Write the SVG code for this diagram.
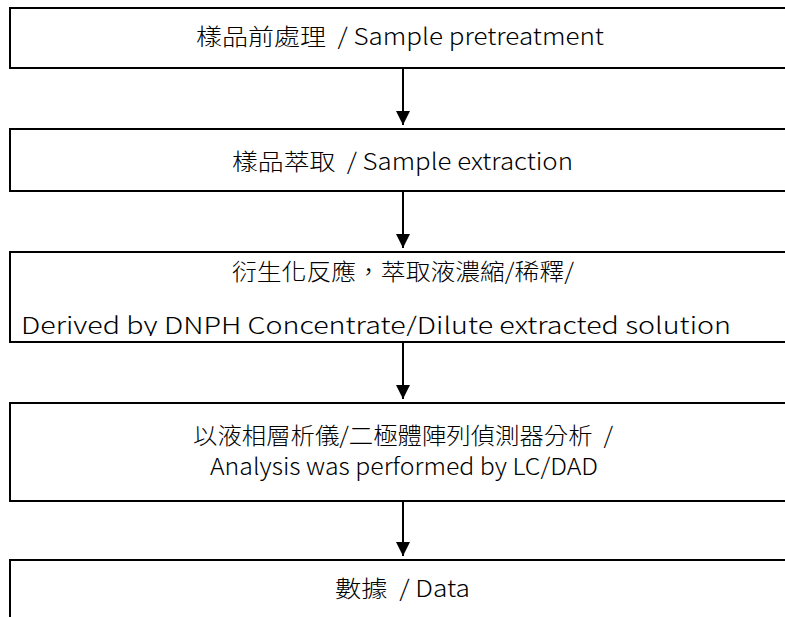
<svg xmlns="http://www.w3.org/2000/svg" width="785" height="617" viewBox="0 0 785 617">
<style>
.box{fill:#fff;stroke:#000;stroke-width:2}
.t{font-family:"Noto Sans CJK TC","Noto Sans",sans-serif;font-size:23px;font-weight:300;fill:#000;white-space:pre}
.c{stroke:#000;stroke-width:2;fill:none}
</style>
<defs>
<marker id="ah" markerUnits="userSpaceOnUse" markerWidth="14" markerHeight="16" refX="14" refY="7" orient="auto">
<path d="M0,0 L14,7 L0,14 z" fill="#000"/>
</marker>
<clipPath id="clip3"><rect x="0" y="252" width="800" height="84"/></clipPath>
</defs>
<g id="connectors">
<line class="c" x1="403" y1="69" x2="403" y2="125" marker-end="url(#ah)"/>
<line class="c" x1="403" y1="192" x2="403" y2="248" marker-end="url(#ah)"/>
<line class="c" x1="403" y1="343" x2="403" y2="399" marker-end="url(#ah)"/>
<line class="c" x1="403" y1="502" x2="403" y2="556" marker-end="url(#ah)"/>
</g>
<g id="n1">
<rect class="box" x="10" y="8" width="800" height="60"/>
<text class="t" x="196" y="45" textLength="408" lengthAdjust="spacingAndGlyphs" xml:space="preserve">樣品前處理  / Sample pretreatment</text>
</g>
<g id="n2">
<rect class="box" x="10" y="129" width="800" height="62"/>
<text class="t" x="232" y="170" textLength="341" lengthAdjust="spacingAndGlyphs" xml:space="preserve">樣品萃取  / Sample extraction</text>
</g>
<g id="n3">
<rect class="box" x="10" y="252" width="800" height="90"/>
<text class="t" x="232" y="280" textLength="342" lengthAdjust="spacingAndGlyphs">衍生化反應，萃取液濃縮/稀釋/</text>
<text class="t" x="21" y="334" textLength="710" lengthAdjust="spacingAndGlyphs" clip-path="url(#clip3)">Derived by DNPH Concentrate/Dilute extracted solution</text>
</g>
<g id="n4">
<rect class="box" x="10" y="403" width="800" height="98"/>
<text class="t" x="193" y="444" textLength="420" lengthAdjust="spacingAndGlyphs" xml:space="preserve">以液相層析儀/二極體陣列偵測器分析  /</text>
<text class="t" x="210" y="475" textLength="388" lengthAdjust="spacingAndGlyphs">Analysis was performed by LC/DAD</text>
</g>
<g id="n5">
<rect class="box" x="10" y="560" width="800" height="80"/>
<text class="t" x="335" y="597" textLength="135" lengthAdjust="spacingAndGlyphs" xml:space="preserve">數據  / Data</text>
</g>
</svg>
